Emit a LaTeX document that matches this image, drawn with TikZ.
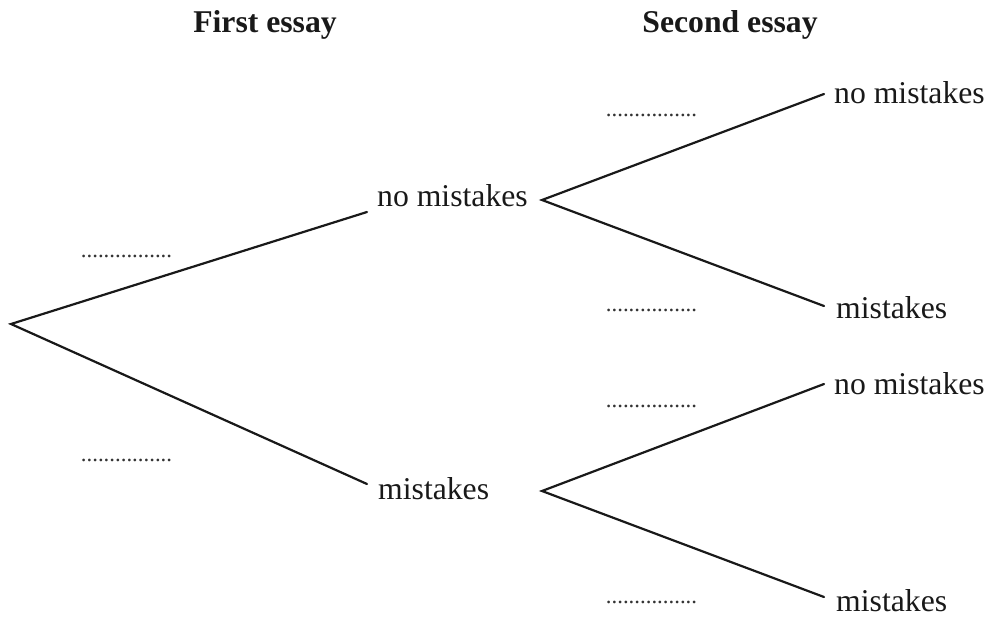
\documentclass[tikz,border=0pt]{standalone}
\usepackage{fontspec}
\setmainfont{Liberation Serif}
\begin{document}
\begin{tikzpicture}[x=1pt,y=-1pt,
  lbl/.style={anchor=base west,inner sep=0pt,font=\fontsize{31.7}{38}\selectfont,text=black!90},
  head/.style={anchor=base,inner sep=0pt,font=\fontsize{31.7}{38}\selectfont\bfseries,text=black!90},
  blank/.style={anchor=center,inner sep=0pt,font=\fontsize{22.8}{26}\selectfont,text=black!80},
  branch/.style={line width=2.2pt,black!90,line cap=round,line join=miter}]
\useasboundingbox (0,0) rectangle (990,616);
% headers
\node[head] (h1) at (265,32) {First essay};
\node[head] (h2) at (730,32) {Second essay};
% branch points
\coordinate (root) at (11,324);
\coordinate (a1) at (367,212);
\coordinate (a2) at (367,484);
\coordinate (b0) at (542,200);
\coordinate (b1) at (824,94);
\coordinate (b2) at (824,306);
\coordinate (c0) at (542,491);
\coordinate (c1) at (824,384);
\coordinate (c2) at (824,597);
% labels
\node[lbl] (l1) at (377,206) {no mistakes};
\node[lbl] (l2) at (378,499) {mistakes};
\node[lbl] (l3) at (834,103) {no mistakes};
\node[lbl] (l4) at (836,318) {mistakes};
\node[lbl] (l5) at (834,394) {no mistakes};
\node[lbl] (l6) at (836,611) {mistakes};
% blanks
\node[blank] (d1) at (126.5,256) {................};
\node[blank] (d2) at (126.5,460) {................};
\node[blank] (d3) at (651.5,115) {................};
\node[blank] (d4) at (651.5,310) {................};
\node[blank] (d5) at (651.5,406) {................};
\node[blank] (d6) at (651.5,602) {................};
% branches
\draw[branch] (a1) -- (root) -- (a2);
\draw[branch] (b1) -- (b0) -- (b2);
\draw[branch] (c1) -- (c0) -- (c2);
\end{tikzpicture}
\end{document}
